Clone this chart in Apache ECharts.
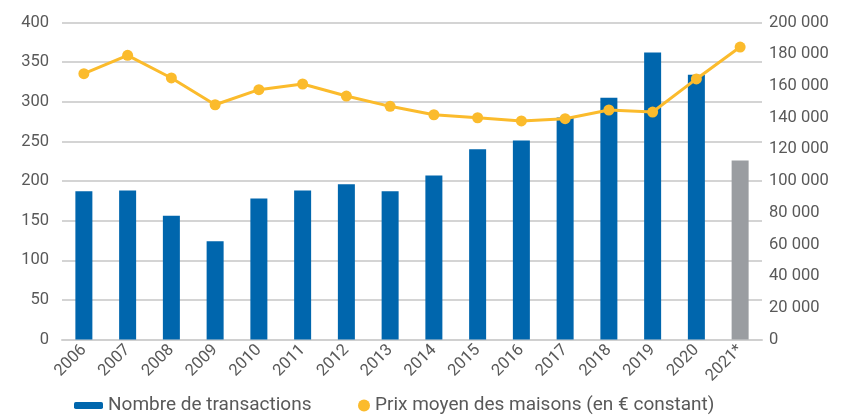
<!DOCTYPE html>
<html>
<head>
<meta charset="utf-8">
<script src="https://cdn.jsdelivr.net/npm/echarts@6/dist/echarts.min.js"></script>
<style>
  html, body { margin: 0; padding: 0; background: #fff; }
  #chart { width: 841px; height: 417px; }
</style>
</head>
<body>
<div id="chart"></div>
<script>
  var years = ['2006', '2007', '2008', '2009', '2010', '2011', '2012', '2013',
               '2014', '2015', '2016', '2017', '2018', '2019', '2020', '2021*'];
  // nombre de transactions (axe gauche)
  var transactions = [187, 188, 156, 124, 178, 188, 196, 187, 207, 240, 251, 280, 305, 362, 334, 226];
  // prix moyen des maisons, en € constant (axe droit)
  var prixMoyen = [167700, 179300, 165000, 148100, 157600, 161200, 153600, 147100,
                   141800, 139900, 137900, 139300, 144800, 143500, 164400, 184500];

  var blue = '#0066ad';
  var grey = '#9a9da1';
  var yellow = '#fbbb2c';
  var txt = '#595959';
  var font = 'Roboto';

  var chart = echarts.init(document.getElementById('chart'));
  chart.setOption({
    animation: false,
    textStyle: { fontFamily: font },
    grid: { left: 62, right: 79, top: 22.5, bottom: 77.5 },
    legend: [
      {
        data: ['Nombre de transactions'],
        left: 69, bottom: -3,
        itemWidth: 29, itemHeight: 7, itemGap: 8,
        itemStyle: { color: blue },
        textStyle: { color: txt, fontSize: 19, fontFamily: font }
      },
      {
        data: [{ name: 'Prix moyen des maisons (en € constant)', icon: 'circle' }],
        left: 353, bottom: -3,
        itemWidth: 12, itemHeight: 12, itemGap: 8,
        textStyle: { color: txt, fontSize: 19, fontFamily: font }
      }
    ],
    xAxis: {
      type: 'category',
      data: years,
      axisLine: { lineStyle: { color: '#d0d0d0', width: 2 } },
      axisTick: { show: false },
      axisLabel: { color: txt, fontSize: 16.5, rotate: 45, margin: 8, interval: 0 }
    },
    yAxis: [
      {
        type: 'value', min: 0, max: 400, interval: 50,
        axisLabel: { color: txt, fontSize: 16.5, margin: 13 },
        axisLine: { show: false }, axisTick: { show: false },
        splitLine: { lineStyle: { color: '#d4d4d4', width: 2 } }
      },
      {
        type: 'value', min: 0, max: 200000, interval: 20000,
        axisLabel: {
          color: txt, fontSize: 16.5, margin: 7,
          formatter: function (v) { return String(v).replace(/\B(?=(\d{3})+(?!\d))/g, ' '); }
        },
        axisLine: { show: false }, axisTick: { show: false },
        splitLine: { show: false }
      }
    ],
    series: [
      {
        name: 'Nombre de transactions',
        type: 'bar',
        data: transactions,
        barWidth: 17,
        itemStyle: {
          color: function (p) { return p.dataIndex === years.length - 1 ? grey : blue; }
        }
      },
      {
        name: 'Prix moyen des maisons (en € constant)',
        type: 'line',
        yAxisIndex: 1,
        data: prixMoyen,
        symbol: 'circle', symbolSize: 11,
        lineStyle: { color: yellow, width: 3 },
        itemStyle: { color: yellow }
      }
    ]
  });
</script>
</body>
</html>
